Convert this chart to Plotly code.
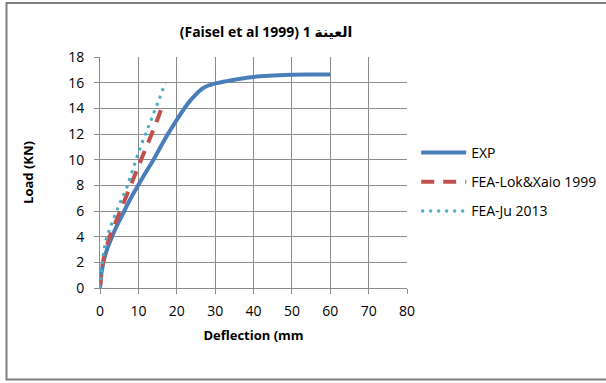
import plotly.graph_objects as go

# Data
exp_x = [0, 0.3, 0.9, 1.5, 2.6, 4.0, 5.6, 7.5, 9.5, 11.7, 13.9, 15.8, 17.8, 19.8, 21.7, 23.5, 25.2, 26.5, 27.8, 30.4, 33, 36.5, 40, 45, 50, 55, 60]
exp_y = [0, 1.0, 2.0, 2.7, 3.6, 4.6, 5.56, 6.7, 7.77, 8.9, 9.98, 11.0, 12.05, 13.0, 13.87, 14.6, 15.15, 15.5, 15.72, 15.96, 16.12, 16.3, 16.45, 16.55, 16.62, 16.63, 16.63]

lok_x = [0, 0.3, 0.7, 1.2, 1.8, 2.5, 3.5, 5, 6.5, 8, 9.5, 11, 12.5, 14, 15.3, 16.4]
lok_y = [0, 0.9, 1.9, 2.6, 3.3, 4.0, 4.7, 5.8, 6.9, 8.0, 9.1, 10.2, 11.3, 12.4, 13.4, 14.3]

ju_x = [0, 0.2, 0.4, 0.7, 1.1, 1.6, 2.4, 3.3, 5, 6.8, 8.5, 10.3, 12, 13.7, 15.4, 17.0]
ju_y = [0, 0.6, 1.3, 2.2, 3.0, 3.8, 4.5, 5.2, 6.5, 7.7, 9.2, 10.8, 12.1, 13.4, 14.7, 16.0]

series_names = ["EXP", "FEA-Lok&Xaio 1999", "FEA-Ju 2013"]
title_text = "(Faisel et al 1999) 1 العينة"

FONT = "Open Sans, DejaVu Sans, sans-serif"

fig = go.Figure()
fig.add_trace(go.Scatter(x=exp_x, y=exp_y, mode="lines", name=series_names[0], legendgroup="a",
                         line=dict(color="#4A7EBB", width=4, shape="spline")))
fig.add_trace(go.Scatter(x=lok_x, y=lok_y, mode="lines", name=series_names[1], legendgroup="b",
                         line=dict(color="#C0504D", width=4, dash="13px,9px", shape="spline")))
fig.add_trace(go.Scatter(x=ju_x, y=ju_y, mode="lines", name=series_names[2], legendgroup="c",
                         line=dict(color="#4BACC6", width=3, dash="3px,5px", shape="spline")))

grid = "#8C8C8C"
fig.update_layout(
    width=606, height=383,
    margin=dict(l=100, r=199, t=57, b=95, autoexpand=False),
    paper_bgcolor="white", plot_bgcolor="white",
    font=dict(family=FONT, size=14, color="#000000"),
    title=dict(text="<b>" + title_text + "</b>", x=266 / 606, xanchor="center",
               y=1 - 32 / 383, yanchor="middle", font=dict(size=14, family=FONT)),
    showlegend=True,
    legend=dict(x=1.03, xanchor="left", y=0.459, yanchor="middle", traceorder="grouped",
                tracegroupgap=8, itemwidth=45, font=dict(size=14, family=FONT),
                bgcolor="rgba(0,0,0,0)"),
    xaxis=dict(range=[0, 80], dtick=10, showgrid=True, gridcolor=grid, gridwidth=1,
               showline=True, linecolor=grid, linewidth=1, mirror=False,
               ticks="outside", ticklen=5, tickcolor=grid, zeroline=False,
               tickfont=dict(size=14), ticklabelstandoff=5,
               title=dict(text="<b>Deflection (mm</b>", font=dict(size=13), standoff=12)),
    yaxis=dict(range=[0, 18], dtick=2, showgrid=True, gridcolor=grid, gridwidth=1,
               showline=True, linecolor=grid, linewidth=1,
               ticks="outside", ticklen=5, tickcolor=grid, zeroline=False,
               tickfont=dict(size=14), ticklabelstandoff=7,
               title=dict(text="<b>Load (KN)</b>", font=dict(size=13), standoff=31)),
)

# outer chart border
fig.add_shape(type="rect", xref="paper", yref="paper",
              x0=(6.5 - 100) / 307, x1=(640 - 100) / 307,
              y0=(288 - 379.5) / 231, y1=(288 - 3) / 231,
              line=dict(color="#7F7F7F", width=2), fillcolor="rgba(0,0,0,0)", layer="below")

fig.write_html("out.html", config={"displayModeBar": False},
               post_script="document.body.style.margin='0';")
